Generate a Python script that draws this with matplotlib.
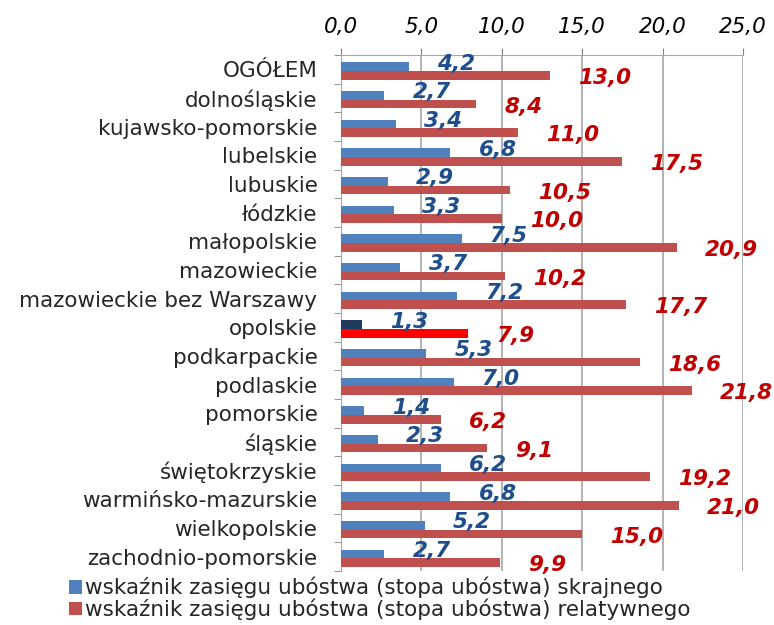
import numpy as np
import matplotlib.pyplot as plt

kategorie = ["OGÓŁEM", "dolnośląskie", "kujawsko-pomorskie", "lubelskie", "lubuskie",
             "łódzkie", "małopolskie", "mazowieckie", "mazowieckie bez Warszawy",
             "opolskie", "podkarpackie", "podlaskie", "pomorskie", "śląskie",
             "świętokrzyskie", "warmińsko-mazurskie", "wielkopolskie",
             "zachodnio-pomorskie"]
skrajne = [4.2, 2.7, 3.4, 6.8, 2.9, 3.3, 7.5, 3.7, 7.2, 1.3, 5.3, 7.0, 1.4, 2.3, 6.2, 6.8, 5.2, 2.7]
relatywne = [13.0, 8.4, 11.0, 17.5, 10.5, 10.0, 20.9, 10.2, 17.7, 7.9, 18.6, 21.8, 6.2, 9.1, 19.2, 21.0, 15.0, 9.9]
wyrozniony = "opolskie"

leg1 = "wskaźnik zasięgu ubóstwa (stopa ubóstwa) skrajnego"
leg2 = "wskaźnik zasięgu ubóstwa (stopa ubóstwa) relatywnego"

c_blue, c_red = "#4F81BD", "#C0504D"
c_blue_hi, c_red_hi = "#1F3A5F", "#FF0000"
t_blue, t_red = "#1F4E8C", "#C00000"

def fmt(v):
    return f"{v:.1f}".replace(".", ",")

fig = plt.figure(figsize=(7.74, 6.25), dpi=100)
ax = fig.add_axes([341/774, 1 - 571/625, (743 - 341)/774, (571 - 55)/625])

y = np.arange(len(kategorie))
h = 0.3
shift = 0.06
col_b = [c_blue_hi if k == wyrozniony else c_blue for k in kategorie]
col_r = [c_red_hi if k == wyrozniony else c_red for k in kategorie]
ax.barh(y - h/2 + shift, skrajne, height=h, color=col_b, label=leg1, zorder=3)
ax.barh(y + h/2 + shift, relatywne, height=h, color=col_r, label=leg2, zorder=3)

off = 1.75
for i in range(len(kategorie)):
    ax.text(skrajne[i] + off, i - 0.2, fmt(skrajne[i]), color=t_blue, fontsize=15.5,
            fontweight="bold", fontstyle="italic", va="center", ha="left")
    ax.text(relatywne[i] + off, i + 0.3, fmt(relatywne[i]), color=t_red, fontsize=15.5,
            fontweight="bold", fontstyle="italic", va="center", ha="left")

ax.set_xlim(0, 25)
ax.set_ylim(len(kategorie) - 0.5, -0.5)
ax.xaxis.tick_top()
ax.set_xticks(np.arange(0, 26, 5))
ax.set_xticklabels([fmt(v) for v in np.arange(0, 26, 5)], fontstyle="italic", fontsize=15.5)
ax.tick_params(axis="x", length=5, pad=8, color="#808080", labelcolor="#000000")
ax.set_yticks(y)
ax.set_yticklabels(kategorie, fontsize=15.5, color="#262626")
ax.tick_params(axis="y", length=0, pad=17)
ax.set_yticks(np.arange(-0.5, len(kategorie)), minor=True)
ax.tick_params(axis="y", which="minor", length=5, color="#808080")
ax.grid(axis="x", color="#A6A6A6", linewidth=1.2, zorder=0)
ax.set_axisbelow(True)
for s in ["bottom", "right"]:
    ax.spines[s].set_visible(False)
for s in ["top", "left"]:
    ax.spines[s].set_color("#A6A6A6")

fig.legend(loc="upper left", bbox_to_anchor=(69/774, 1 - 577/625), frameon=False,
           fontsize=15.5, handlelength=0.6, handleheight=0.6, handletextpad=0.15,
           labelspacing=0.0, borderaxespad=0, borderpad=0,
           labelcolor="#262626")

fig.savefig("out.png", dpi=100)
